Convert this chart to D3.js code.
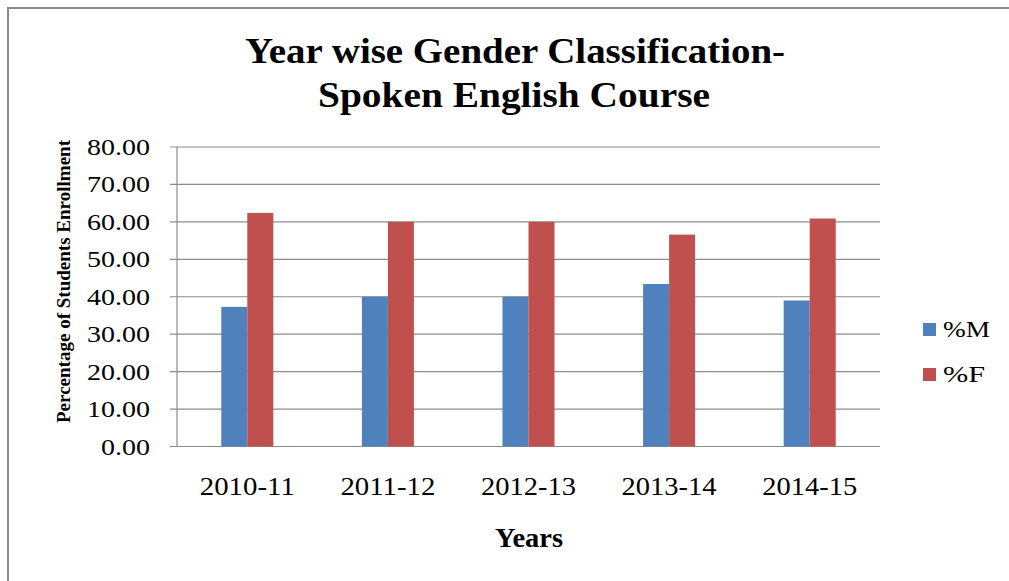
<!DOCTYPE html>
<html>
<head>
<meta charset="utf-8">
<script src="https://cdn.jsdelivr.net/npm/d3@7"></script>
<style>
  html, body { margin: 0; padding: 0; background: #fff; }
  svg { display: block; }
</style>
</head>
<body>
<svg id="chart" width="1009" height="581"></svg>
<script>
const years = ['2010-11', '2011-12', '2012-13', '2013-14', '2014-15'];
const male = [37.3, 40.0, 40.0, 43.4, 39.0];
const female = [62.4, 60.0, 60.0, 56.6, 60.9];
const seriesNames = ['%M', '%F'];
const yTicks = [0, 10, 20, 30, 40, 50, 60, 70, 80];

const COLORS = { '%M': '#4F81BD', '%F': '#C0504D' };
const FONT = 'Liberation Serif';

const svg = d3.select('#chart');

// outer chart frame
svg.append('rect')
  .attr('x', 8).attr('y', 8)
  .attr('width', 1020).attr('height', 600)
  .attr('fill', '#fff')
  .attr('stroke', '#8a8a8a')
  .attr('stroke-width', 2);

const plot = { left: 177, right: 880, top: 147, bottom: 446.5 };

const x = d3.scaleBand()
  .domain(years)
  .range([plot.left, plot.right])
  .paddingInner(0.63)
  .paddingOuter(0.315);

const xs = d3.scaleBand()
  .domain(seriesNames)
  .range([0, x.bandwidth()]);

const y = d3.scaleLinear()
  .domain([0, 80])
  .range([plot.bottom, plot.top]);

// gridlines + tick marks
svg.append('g')
  .selectAll('line')
  .data(yTicks)
  .join('line')
  .attr('x1', plot.left - 7)
  .attr('x2', plot.right)
  .attr('y1', (d) => y(d))
  .attr('y2', (d) => y(d))
  .attr('stroke', '#8c8c8c')
  .attr('stroke-width', 1.2);

svg.append('line')
  .attr('x1', plot.left).attr('x2', plot.left)
  .attr('y1', plot.top).attr('y2', plot.bottom)
  .attr('stroke', '#8c8c8c')
  .attr('stroke-width', 1.2);

// y tick labels (the original is stretched wide, so fix the width)
svg.append('g')
  .selectAll('text')
  .data(yTicks)
  .join('text')
  .attr('font-family', FONT)
  .attr('x', 150)
  .attr('y', (d) => y(d))
  .attr('dy', '0.35em')
  .attr('text-anchor', 'end')
  .attr('font-size', 23)
  .attr('textLength', (d) => (d < 10 ? 49 : 63))
  .attr('lengthAdjust', 'spacingAndGlyphs')
  .text((d) => d.toFixed(2));

// bars
const rows = years.map((yr, i) => ({ year: yr, values: [
  { name: '%M', value: male[i] },
  { name: '%F', value: female[i] },
] }));

const groups = svg.append('g')
  .selectAll('g')
  .data(rows)
  .join('g')
  .attr('transform', (d) => `translate(${x(d.year)},0)`);

groups.selectAll('rect')
  .data((d) => d.values)
  .join('rect')
  .attr('x', (d) => xs(d.name))
  .attr('y', (d) => y(d.value))
  .attr('width', xs.bandwidth())
  .attr('height', (d) => y(0) - y(d.value))
  .attr('fill', (d) => COLORS[d.name]);

// x tick labels
svg.append('g')
  .selectAll('text')
  .data(years)
  .join('text')
  .attr('font-family', FONT)
  .attr('x', (d) => x(d) + x.bandwidth() / 2)
  .attr('y', 495)
  .attr('text-anchor', 'middle')
  .attr('font-size', 26)
  .attr('textLength', 95)
  .attr('lengthAdjust', 'spacingAndGlyphs')
  .text((d) => d);

// titles
svg.append('text')
  .attr('font-family', FONT)
  .attr('x', 515).attr('y', 63)
  .attr('text-anchor', 'middle')
  .attr('font-size', 36)
  .attr('font-weight', 'bold')
  .attr('textLength', 540)
  .attr('lengthAdjust', 'spacingAndGlyphs')
  .text('Year wise Gender Classification-');

svg.append('text')
  .attr('font-family', FONT)
  .attr('x', 514).attr('y', 107)
  .attr('text-anchor', 'middle')
  .attr('font-size', 36)
  .attr('font-weight', 'bold')
  .attr('textLength', 392)
  .attr('lengthAdjust', 'spacingAndGlyphs')
  .text('Spoken English Course');

svg.append('text')
  .attr('font-family', FONT)
  .attr('x', 529).attr('y', 547)
  .attr('text-anchor', 'middle')
  .attr('font-size', 28)
  .attr('font-weight', 'bold')
  .attr('textLength', 68)
  .attr('lengthAdjust', 'spacingAndGlyphs')
  .text('Years');

svg.append('text')
  .attr('font-family', FONT)
  .attr('transform', 'translate(70,281.5) rotate(-90)')
  .attr('text-anchor', 'middle')
  .attr('font-size', 18)
  .attr('font-weight', 'bold')
  .attr('textLength', 283)
  .attr('lengthAdjust', 'spacingAndGlyphs')
  .text('Percentage of Students Enrollment');

// legend
const legend = svg.append('g')
  .selectAll('g')
  .data(seriesNames)
  .join('g')
  .attr('transform', (d, i) => `translate(923,${323 + i * 45})`);

legend.append('rect')
  .attr('width', 13).attr('height', 13)
  .attr('fill', (d) => COLORS[d]);

legend.append('text')
  .attr('font-family', FONT)
  .attr('x', 20).attr('y', 14)
  .attr('font-size', 24)
  .attr('textLength', (d) => (d === '%M' ? 47 : 42))
  .attr('lengthAdjust', 'spacingAndGlyphs')
  .text((d) => d);
</script>
</body>
</html>
